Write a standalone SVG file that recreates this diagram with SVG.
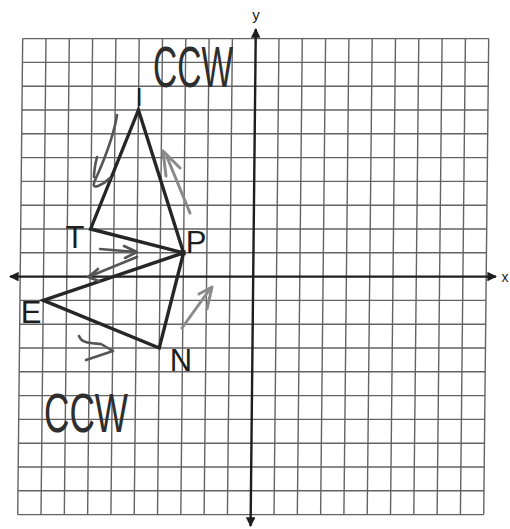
<svg xmlns="http://www.w3.org/2000/svg" width="510" height="529" viewBox="0 0 510 529">
<style>
.grid{fill:none;stroke:#636363;stroke-width:1.4}
.axis{fill:none;stroke:#1e1e1e;stroke-width:2.4}
.edge{fill:none;stroke:#262626;stroke-width:3.4;stroke-linejoin:miter;stroke-linecap:round}
.lbl{font-family:"Liberation Sans",Arial,sans-serif;fill:#1e1e1e;text-anchor:middle}
.hand{fill:none;stroke:#555;stroke-width:2.6;stroke-linecap:round;stroke-linejoin:round}
.hand2{fill:none;stroke:#8a8a8a;stroke-width:3;stroke-linecap:round;stroke-linejoin:round}
.ccw{font-family:"Liberation Sans",Arial,sans-serif;fill:#2e2e2e}
</style>
<defs>
<marker id="ah" viewBox="0 0 10 10" refX="9" refY="5" markerWidth="4" markerHeight="4" orient="auto-start-reverse"><path d="M0,0 L10,5 L0,10 Z" fill="#1e1e1e"/></marker>
</defs>
<rect width="510" height="529" fill="#fff"/>
<g id="plane" transform="translate(2.9,0) skewX(-0.6)">
<path class="grid" d="M20.2,38.6V514.6M43.5,38.6V514.6M66.8,38.6V514.6M90.1,38.6V514.6M113.4,38.6V514.6M136.7,38.6V514.6M160,38.6V514.6M183.3,38.6V514.6M206.6,38.6V514.6M229.9,38.6V514.6M276.5,38.6V514.6M299.8,38.6V514.6M323.1,38.6V514.6M346.4,38.6V514.6M369.7,38.6V514.6M393,38.6V514.6M416.3,38.6V514.6M439.6,38.6V514.6M462.9,38.6V514.6M486.2,38.6V514.6M20.2,38.6H486.2M20.2,62.4H486.2M20.2,86.2H486.2M20.2,110H486.2M20.2,133.8H486.2M20.2,157.6H486.2M20.2,181.4H486.2M20.2,205.2H486.2M20.2,229H486.2M20.2,252.8H486.2M20.2,300.4H486.2M20.2,324.2H486.2M20.2,348H486.2M20.2,371.8H486.2M20.2,395.6H486.2M20.2,419.4H486.2M20.2,443.2H486.2M20.2,467H486.2M20.2,490.8H486.2M20.2,514.6H486.2"/>
<g id="axes">
<line class="axis" x1="10" y1="276.6" x2="496" y2="276.6" marker-start="url(#ah)" marker-end="url(#ah)"/>
<line class="axis" x1="253.2" y1="29" x2="253.2" y2="526" marker-start="url(#ah)" marker-end="url(#ah)"/>
</g>
<g id="connectors">
<polygon id="tri-TIP" class="edge" points="90.1,229 136.7,110 183.3,252.8"/>
<polygon id="tri-PEN" class="edge" points="183.3,252.8 43.5,300.4 160,348"/>
</g>
</g>
<text class="lbl" x="256" y="20" font-size="15">y</text>
<text class="lbl" x="505" y="282" font-size="14">x</text>
<g id="node-I"><text class="lbl" x="139" y="106" font-size="26">I</text></g>
<g id="node-T"><text class="lbl" x="75" y="248" font-size="31">T</text></g>
<g id="node-P"><text class="lbl" x="196" y="253" font-size="31">P</text></g>
<g id="node-E"><text class="lbl" x="31" y="323" font-size="31">E</text></g>
<g id="node-N"><text class="lbl" x="181" y="371" font-size="31">N</text></g>
<g id="annotations">
<text class="ccw" transform="translate(153,87) scale(1,1.45)" font-size="40" textLength="80" lengthAdjust="spacingAndGlyphs">CCW</text>
<text class="ccw" transform="translate(44,432) scale(1,1.4)" font-size="40" textLength="84" lengthAdjust="spacingAndGlyphs">CCW</text>
<path class="hand" d="M117,115 C114,135 104,160 97,176 C93,184 92,188 98,186 C103,184 107,181 110,178 M97,157 C95,165 94,171 94,177"/>
<path class="hand2" d="M190,213 L167,157 M163,151 L166,176 M163,151 L180,168"/>
<path class="hand" d="M100,249 L136,252 M124,246 L137,252 L125,258"/>
<path class="hand" d="M137,257 L88,277 M88,277 L98,269 M88,277 L99,281"/>
<path class="hand" d="M79,336 C82,344 92,343 101,344 L113,351 L86,360"/>
<path class="hand2" d="M182,328 L210,289 M199,294 L212,287 L207,309"/>
</g>
</svg>
